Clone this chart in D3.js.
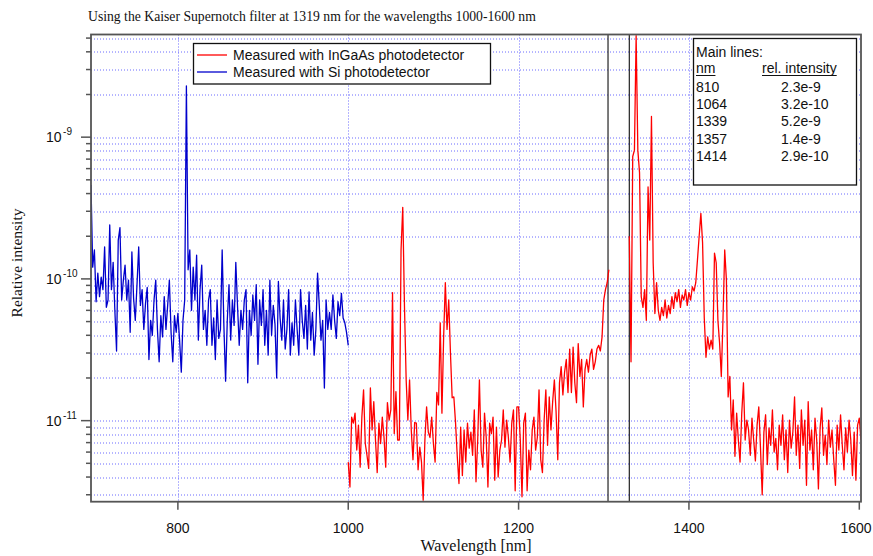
<!DOCTYPE html>
<html>
<head>
<meta charset="utf-8">
<script src="https://cdn.jsdelivr.net/npm/d3@7"></script>
<style>
  body { margin: 0; background: #fff; }
  svg { display: block; }
  .serif { font-family: "Liberation Serif", "Times New Roman", serif; }
  .sans { font-family: "Liberation Sans", Arial, sans-serif; }
</style>
</head>
<body>
<div id="wrapper"></div>
<script>
// sampled spectra, one value every 2 nm
const step = 2

const siStart = 698
const siIntensity = [
  4.6e-10, 1.21e-10, 1.6e-10, 6.9e-11, 1.1e-10, 7.5e-11, 1.03e-10, 8.4e-11, 1.68e-10, 6.3e-11,
  7.1e-11, 2.4e-10, 8.4e-11, 1.31e-10, 6.0e-11, 3.1e-11, 1.88e-10, 2.3e-10, 7.1e-11, 9.8e-11,
  1.25e-10, 7.1e-11, 9.8e-11, 4.2e-11, 1.55e-10, 7.3e-11, 5.1e-11, 9.1e-11, 1.68e-10, 6.5e-11,
  8.4e-11, 4.4e-11, 6.7e-11, 8.7e-11, 2.7e-11, 5.1e-11, 4.0e-11, 7.1e-11, 9.8e-11, 4.4e-11,
  2.6e-11, 5.5e-11, 3.9e-11, 7.5e-11, 4.4e-11, 6.5e-11, 9.8e-11, 4.2e-11, 2.6e-11, 5.5e-11,
  4.2e-11, 5.7e-11, 3.7e-11, 2.2e-11, 5.1e-11, 7.1e-11, 2.3e-9, 1.16e-10, 1.6e-10, 6.0e-11,
  1.21e-10, 7.1e-11, 1.47e-10, 3.7e-11, 8.4e-11, 1.25e-10, 4.4e-11, 6.0e-11, 3.4e-11, 7.1e-11,
  8.4e-11, 3.4e-11, 5.3e-11, 2.7e-11, 7.1e-11, 3.8e-11, 4.4e-11, 1.6e-10, 4.7e-11, 1.9e-11,
  5.1e-11, 9.1e-11, 3.7e-11, 7.1e-11, 4.7e-11, 1.31e-10, 6.5e-11, 3.4e-11, 6.0e-11, 4.4e-11,
  7.1e-11, 8.4e-11, 1.85e-11, 6.0e-11, 4.0e-11, 7.7e-11, 5.1e-11, 9.1e-11, 2.5e-11, 7.1e-11,
  4.7e-11, 8.4e-11, 3.4e-11, 6.0e-11, 2.9e-11, 9.8e-11, 4.0e-11, 6.5e-11, 4.8e-11, 2.0e-11,
  9.6e-11, 5.3e-11, 3.7e-11, 7.1e-11, 3.2e-11, 4.4e-11, 8.4e-11, 2.9e-11, 4.9e-11, 3.4e-11,
  7.1e-11, 4.4e-11, 2.9e-11, 8.4e-11, 5.1e-11, 3.8e-11, 6.5e-11, 3.2e-11, 8.1e-11, 3.7e-11,
  5.8e-11, 2.9e-11, 4.4e-11, 1.1e-10, 6.5e-11, 3.7e-11, 5.1e-11, 1.7e-11, 7.1e-11, 4.4e-11,
  5.8e-11, 4.4e-11, 7.7e-11, 5.1e-11, 3.8e-11, 6.9e-11, 5.5e-11, 7.9e-11, 5.3e-11, 4.9e-11, 4.2e-11, 3.4e-11
]

// InGaAs below the notch
const ingaasLowStart = 1000
const ingaasLow = [
  5.1e-12, 3.4e-12, 1.06e-11, 9.6e-12, 1.13e-11, 6.2e-12, 9.3e-12, 4.7e-12, 1.06e-11, 1.65e-11,
  6.9e-12, 5.7e-12, 4.6e-12, 1.7e-11, 8.6e-12, 1.36e-11, 7.3e-12, 4.3e-12, 9.6e-12, 6.9e-12,
  1.06e-11, 7.6e-12, 4.7e-12, 1.34e-11, 1.01e-11, 1.19e-11, 8.0e-11, 8.1e-12, 1.6e-11, 7.3e-12,
  7.3e-12, 1.6e-10, 3.2e-10, 6.5e-11, 1.94e-11, 1.01e-11, 1.94e-11, 8.6e-12, 5.3e-12, 9.7e-12,
  9.6e-12, 4.5e-12, 6.5e-12, 5.1e-12, 2.75e-12, 7.3e-12, 1.25e-11, 8.3e-12, 7.6e-12, 1.06e-11,
  6.9e-12, 5.1e-12, 1.58e-11, 1.29e-11, 4.9e-11, 1.13e-11, 3.9e-11, 9.4e-11, 4.4e-11, 7.1e-11,
  3.0e-11, 1.45e-11, 1.47e-11, 9.6e-12, 5.6e-12, 3.6e-12, 9.0e-12, 4.1e-12, 8.6e-12, 5.1e-12,
  9.6e-12, 6.4e-12, 8.3e-12, 5.7e-12, 1.19e-11, 3.7e-12, 7.3e-12, 1.94e-11, 6.2e-12, 4.7e-12,
  1.13e-11, 7.6e-12, 3.4e-12, 9.6e-12, 8.1e-12, 1.06e-11, 3.8e-12, 9.0e-12, 4.0e-12, 6.2e-12,
  7.3e-12, 1.19e-11, 6.5e-12, 1.01e-11, 7.6e-12, 5.1e-12, 9.6e-12, 1.19e-11, 3.2e-12, 1.25e-11,
  1.25e-11, 7.3e-12, 2.9e-12, 9.6e-12, 1.13e-11, 3.2e-12, 6.2e-12, 4.5e-12, 8.6e-12, 1.06e-11,
  6.2e-12, 7.6e-12, 1.65e-11, 5.3e-12, 4.3e-12, 1.01e-11, 1.65e-11, 6.7e-12, 1.47e-11, 8.6e-12,
  1.36e-11, 1.94e-11, 1.16e-11, 5.3e-12, 1.85e-11, 2.4e-11, 1.52e-11, 2.2e-11, 2.7e-11, 1.58e-11,
  3.2e-11, 1.58e-11, 3.3e-11, 1.85e-11, 1.34e-11, 3.5e-11, 2.05e-11, 2.7e-11, 1.25e-11, 2.3e-11,
  2.7e-11, 2.2e-11, 2.9e-11, 3.2e-11, 2.3e-11, 2.6e-11, 3.2e-11, 3.4e-11, 3.1e-11, 3.9e-11,
  7.1e-11, 8.4e-11, 9.4e-11, 1.16e-10
]

// InGaAs above the notch
const ingaasHighStart = 1330
const ingaasHigh = [
  2.0e-10, 2.6e-11, 7.3e-10, 8.1e-10, 5.2e-9, 8.1e-10, 5.6e-10, 7.5e-11, 6.3e-11, 8.4e-11,
  5.1e-11, 4.45e-10, 1.88e-10, 1.4e-9, 1.3e-10, 5.7e-11, 9.4e-11, 6.0e-11, 5.1e-11, 6.3e-11,
  5.5e-11, 7.1e-11, 5.3e-11, 6.5e-11, 5.7e-11, 7.5e-11, 6.2e-11, 8.0e-11, 6.9e-11, 8.4e-11,
  6.3e-11, 7.7e-11, 7.1e-11, 8.4e-11, 6.5e-11, 8.0e-11, 7.1e-11, 8.8e-11, 8.2e-11, 9.4e-11,
  1.36e-10, 2.0e-10, 2.9e-10, 1.8e-10, 5.3e-11, 2.8e-11, 3.9e-11, 3.2e-11, 3.7e-11, 3.2e-11,
  1.52e-10, 1.3e-10, 5.1e-11, 3.5e-11, 2.05e-11, 5.3e-11, 1.6e-10, 9.8e-11, 1.47e-11, 2.05e-11,
  8.6e-12, 1.4e-11, 5.6e-12, 1.13e-11, 7.3e-12, 5.1e-12, 1.13e-11, 1.85e-11, 7.3e-12, 1.01e-11,
  8.6e-12, 5.7e-12, 1.04e-11, 7.3e-12, 5.2e-12, 9.3e-12, 1.25e-11, 6.4e-12, 3.0e-12, 8.3e-12,
  1.1e-11, 4.9e-12, 8.9e-12, 6.7e-12, 1.19e-11, 6.0e-12, 7.5e-12, 4.5e-12, 9.3e-12, 6.7e-12,
  1.1e-11, 5.3e-12, 8.6e-12, 4.3e-12, 1.01e-11, 6.4e-12, 8.3e-12, 1.47e-11, 5.7e-12, 9.3e-12,
  4.6e-12, 1.19e-11, 6.7e-12, 1.01e-11, 3.5e-12, 1.36e-11, 6.2e-12, 8.6e-12, 4.5e-12, 1.04e-11,
  7.3e-12, 3.3e-12, 8.9e-12, 1.23e-11, 5.7e-12, 7.9e-12, 4.9e-12, 1.01e-11, 6.5e-12, 8.6e-12,
  5.3e-12, 3.5e-12, 9.3e-12, 6.2e-12, 1.1e-11, 6.7e-12, 4.5e-12, 8.9e-12, 6.0e-12, 1.01e-11,
  7.3e-12, 4.1e-12, 8.3e-12, 3.8e-12, 9.3e-12, 1.04e-11, 7.3e-12
]

const notchEdges = [1305, 1330]
const xTicks = [800, 1000, 1200, 1400, 1600]
const yMajorTicks = [1e-11, 1e-10, 1e-9]

const legendLabels = ["Measured with InGaAs photodetector", "Measured with Si photodetector"]
const legendColors = ["#ff0000", "#0000cc"]

const mainLineNm = ["810", "1064", "1339", "1357", "1414"]
const mainLineIntensity = ["2.3e-9", "3.2e-10", "5.2e-9", "1.4e-9", "2.9e-10"]

function toPoints(start, values) {
  return values.map((v, i) => ({ nm: start + i * step, value: v }))
}

function drawChart() {
  // create chart dimensions
  let dimensions = {
    width: 873,
    height: 556,
    margin: {
      top: 34.5,
      right: 12,
      bottom: 54.3,
      left: 91
    }
  }
  dimensions.boundedWidth = dimensions.width
    - dimensions.margin.left
    - dimensions.margin.right
  dimensions.boundedHeight = dimensions.height
    - dimensions.margin.top
    - dimensions.margin.bottom

  // draw canvas
  const wrapper = d3.select("#wrapper")
    .append("svg")
      .attr("width", dimensions.width)
      .attr("height", dimensions.height)

  wrapper.append("text")
    .attr("class", "serif")
    .attr("x", 88)
    .attr("y", 21)
    .attr("font-size", 13.7)
    .attr("fill", "#111")
    .text("Using the Kaiser Supernotch filter at 1319 nm for the wavelengths 1000-1600 nm")

  const bounds = wrapper.append("g")
    .attr("transform", `translate(${dimensions.margin.left}, ${dimensions.margin.top})`)

  // create scales
  const xScale = d3.scaleLinear()
    .domain([698, 1602])
    .range([0, dimensions.boundedWidth])

  const yScale = d3.scaleLog()
    .domain([2.68e-12, 5.3e-9])
    .range([dimensions.boundedHeight, 0])

  const yTicks = yScale.ticks()

  // grid
  const grid = bounds.append("g")
    .attr("stroke", "#6a6aff")
    .attr("stroke-width", 1)
    .attr("stroke-dasharray", "1,2")

  grid.selectAll(".hgrid")
    .data(yTicks)
    .enter().append("line")
      .attr("class", "hgrid")
      .attr("x1", 0)
      .attr("x2", dimensions.boundedWidth)
      .attr("y1", d => Math.round(yScale(d)) + 0.5)
      .attr("y2", d => Math.round(yScale(d)) + 0.5)

  grid.selectAll(".vgrid")
    .data(xTicks.filter(d => xScale(d) < dimensions.boundedWidth - 4))
    .enter().append("line")
      .attr("class", "vgrid")
      .attr("x1", d => Math.round(xScale(d)) + 0.5)
      .attr("x2", d => Math.round(xScale(d)) + 0.5)
      .attr("y1", 0)
      .attr("y2", dimensions.boundedHeight)

  // notch edges
  bounds.selectAll(".notch")
    .data(notchEdges)
    .enter().append("line")
      .attr("class", "notch")
      .attr("x1", d => xScale(d))
      .attr("x2", d => xScale(d))
      .attr("y1", 0)
      .attr("y2", dimensions.boundedHeight)
      .attr("stroke", "#222")
      .attr("stroke-width", 1.2)

  // draw data
  bounds.append("clipPath")
    .attr("id", "plot-clip")
    .append("rect")
      .attr("width", dimensions.boundedWidth)
      .attr("height", dimensions.boundedHeight)

  const lineGenerator = d3.line()
    .x(d => xScale(d.nm))
    .y(d => yScale(d.value))

  const series = [
    { points: toPoints(siStart, siIntensity), color: legendColors[1] },
    { points: toPoints(ingaasLowStart, ingaasLow), color: legendColors[0] },
    { points: toPoints(ingaasHighStart, ingaasHigh), color: legendColors[0] }
  ]

  bounds.append("g")
    .attr("clip-path", "url(#plot-clip)")
    .selectAll("path")
    .data(series)
    .enter().append("path")
      .attr("d", d => lineGenerator(d.points))
      .attr("fill", "none")
      .attr("stroke", d => d.color)
      .attr("stroke-width", 1.3)
      .attr("stroke-linejoin", "round")

  // axes
  const axisColor = "#555"

  bounds.selectAll(".ytick")
    .data(yTicks)
    .enter().append("line")
      .attr("class", "ytick")
      .attr("x1", d => yMajorTicks.includes(d) ? -10 : -5)
      .attr("x2", 0)
      .attr("y1", d => yScale(d))
      .attr("y2", d => yScale(d))
      .attr("stroke", axisColor)
      .attr("stroke-width", 1.5)

  // "10" with the exponent raised after it
  const yLabels = bounds.selectAll(".ylabel")
    .data(yMajorTicks)
    .enter().append("text")
      .attr("class", "ylabel sans")
      .attr("x", -45)
      .attr("y", d => yScale(d) + 5)
      .attr("font-size", 14)
      .attr("fill", "#111")
  yLabels.append("tspan").text("10")
  yLabels.append("tspan")
    .attr("dx", 1.5)
    .attr("dy", -7)
    .attr("font-size", 10)
    .text(d => Math.round(Math.log10(d)))

  bounds.selectAll(".xtick")
    .data(xTicks)
    .enter().append("line")
      .attr("class", "xtick")
      .attr("x1", d => xScale(d))
      .attr("x2", d => xScale(d))
      .attr("y1", dimensions.boundedHeight)
      .attr("y2", dimensions.boundedHeight + 8)
      .attr("stroke", axisColor)
      .attr("stroke-width", 1.5)

  // the last label would run off the page, so it is pulled in a little
  bounds.selectAll(".xlabel")
    .data(xTicks)
    .enter().append("text")
      .attr("class", "xlabel sans")
      .attr("x", d => Math.min(xScale(d), dimensions.boundedWidth - 5))
      .attr("y", dimensions.boundedHeight + 31)
      .attr("text-anchor", "middle")
      .attr("font-size", 14)
      .attr("fill", "#111")
      .text(d => d)

  bounds.append("rect")
    .attr("width", dimensions.boundedWidth)
    .attr("height", dimensions.boundedHeight)
    .attr("fill", "none")
    .attr("stroke", axisColor)
    .attr("stroke-width", 1.8)

  wrapper.append("text")
    .attr("class", "serif")
    .attr("x", 476)
    .attr("y", 551)
    .attr("text-anchor", "middle")
    .attr("font-size", 16)
    .attr("fill", "#111")
    .text("Wavelength [nm]")

  wrapper.append("text")
    .attr("class", "serif")
    .attr("transform", "translate(22, 263) rotate(-90)")
    .attr("text-anchor", "middle")
    .attr("font-size", 15.5)
    .attr("fill", "#111")
    .text("Relative intensity")

  // legend
  const legend = wrapper.append("g")
  legend.append("rect")
    .attr("x", 193.5)
    .attr("y", 43.5)
    .attr("width", 297)
    .attr("height", 40.5)
    .attr("fill", "#fff")
    .attr("stroke", "#111")
    .attr("stroke-width", 1.3)

  const legendItems = legend.selectAll(".legend-item")
    .data(legendLabels)
    .enter().append("g")
      .attr("class", "legend-item")
      .attr("transform", (d, i) => `translate(0, ${55 + i * 17})`)

  legendItems.append("line")
    .attr("x1", 197)
    .attr("x2", 227)
    .attr("stroke", (d, i) => legendColors[i])
    .attr("stroke-width", 1.3)

  legendItems.append("text")
    .attr("class", "sans")
    .attr("x", 233)
    .attr("y", 5)
    .attr("font-size", 14)
    .attr("fill", "#111")
    .text(d => d)

  // main lines table
  const table = wrapper.append("g")
  table.append("rect")
    .attr("x", 693.5)
    .attr("y", 38.5)
    .attr("width", 163)
    .attr("height", 146.5)
    .attr("fill", "#fff")
    .attr("stroke", "#111")
    .attr("stroke-width", 1.3)

  table.append("text")
    .attr("class", "sans")
    .attr("x", 696)
    .attr("y", 57)
    .attr("font-size", 14)
    .attr("fill", "#111")
    .text("Main lines:")

  const headers = [{ x: 696, label: "nm" }, { x: 762, label: "rel. intensity" }]
  headers.forEach(h => {
    const t = table.append("text")
      .attr("class", "sans")
      .attr("x", h.x)
      .attr("y", 73)
      .attr("font-size", 14)
      .attr("fill", "#111")
      .text(h.label)
    const w = t.node().getComputedTextLength()
    table.append("line")
      .attr("x1", h.x)
      .attr("x2", h.x + w)
      .attr("y1", 75.5)
      .attr("y2", 75.5)
      .attr("stroke", "#111")
      .attr("stroke-width", 1)
  })

  const rows = table.selectAll(".row")
    .data(mainLineNm)
    .enter().append("g")
      .attr("class", "row sans")
      .attr("transform", (d, i) => `translate(0, ${91.5 + i * 17.4})`)

  rows.append("text")
    .attr("x", 696)
    .attr("font-size", 14)
    .attr("fill", "#111")
    .text(d => d)

  rows.append("text")
    .attr("x", 781)
    .attr("font-size", 14)
    .attr("fill", "#111")
    .text((d, i) => mainLineIntensity[i])
}

drawChart()
</script>
</body>
</html>
